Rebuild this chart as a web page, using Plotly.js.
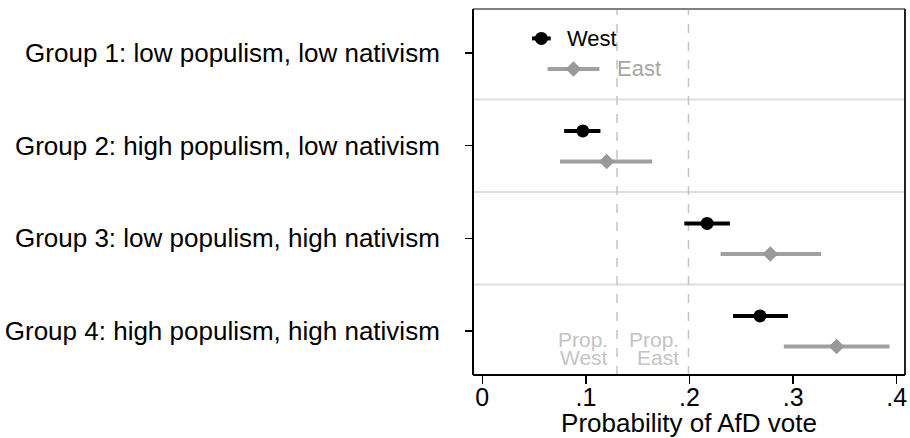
<!DOCTYPE html>
<html>
<head>
<meta charset="utf-8">
<script src="https://cdn.plot.ly/plotly-3.0.1.min.js"></script>
<style>html,body{margin:0;padding:0;background:#fff;}#chart{width:910px;height:438px;}</style>
</head>
<body>
<div id="chart"></div>
<script>
// ---- data ----
const groups = [
  "Group 1: low populism, low nativism",
  "Group 2: high populism, low nativism",
  "Group 3: low populism, high nativism",
  "Group 4: high populism, high nativism"
];
const westEst = [0.057, 0.097, 0.217, 0.268];
const westLo  = [0.048, 0.079, 0.195, 0.242];
const westHi  = [0.066, 0.114, 0.239, 0.295];
const eastEst = [0.088, 0.120, 0.278, 0.342];
const eastLo  = [0.063, 0.075, 0.230, 0.291];
const eastHi  = [0.113, 0.164, 0.327, 0.393];
const propValues = [0.13, 0.199];
const propNames = ["West", "East"];
const xTickVals = [0, 0.1, 0.2, 0.3, 0.4];
const xTickText = ["0", ".1", ".2", ".3", ".4"];

// ---- build ----
const pos = groups.map((g, i) => i + 1);
const westY = pos.map(p => p - 0.16);
const eastY = pos.map(p => p + 0.17);
const FONT = "Liberation Sans, Arial, Helvetica, sans-serif";

const west = {
  type: "scatter", mode: "markers", x: westEst, y: westY,
  marker: {symbol: "circle", size: 13, color: "#000"},
  error_x: {type: "data", symmetric: false,
    array: westHi.map((h, i) => h - westEst[i]),
    arrayminus: westLo.map((l, i) => westEst[i] - l),
    color: "#000", thickness: 4, width: 0},
  hoverinfo: "x", showlegend: false
};
const east = {
  type: "scatter", mode: "markers", x: eastEst, y: eastY,
  marker: {symbol: "diamond", size: 12, color: "#999999"},
  error_x: {type: "data", symmetric: false,
    array: eastHi.map((h, i) => h - eastEst[i]),
    arrayminus: eastLo.map((l, i) => eastEst[i] - l),
    color: "#a0a0a0", thickness: 4, width: 0},
  hoverinfo: "x", showlegend: false
};

const shapes = [];
// separators between groups
for (let i = 1; i < groups.length; i++) {
  shapes.push({type: "line", xref: "paper", yref: "y", x0: 0, x1: 1, y0: i + 0.5, y1: i + 0.5,
    line: {color: "#dedede", width: 2}, layer: "below"});
}
// reference lines
propValues.forEach(v => shapes.push({type: "line", xref: "x", yref: "paper", x0: v, x1: v, y0: 0, y1: 1,
  line: {color: "#c4c4c4", width: 1.5, dash: "dash"}, layer: "below"}));
// frame
shapes.push({type: "line", xref: "paper", yref: "paper", x0: 0, x1: 1, y0: 1, y1: 1, line: {color: "#808080", width: 2}});
shapes.push({type: "line", xref: "paper", yref: "paper", x0: 1, x1: 1, y0: 0, y1: 1, line: {color: "#222", width: 2}});
shapes.push({type: "line", xref: "paper", yref: "paper", x0: 0, x1: 0, y0: 0, y1: 1, line: {color: "#000", width: 2}});
shapes.push({type: "line", xref: "paper", yref: "paper", x0: 0, x1: 1, y0: 0, y1: 0, line: {color: "#000", width: 2}});

const annotations = [
  {x: westEst[0], y: westY[0], xref: "x", yref: "y", text: "West", showarrow: false,
   xanchor: "left", xshift: 24, font: {family: FONT, size: 22, color: "#000"}},
  {x: eastEst[0], y: eastY[0], xref: "x", yref: "y", text: "East", showarrow: false,
   xanchor: "left", xshift: 42, font: {family: FONT, size: 22, color: "#a6a6a6"}}
];
propValues.forEach((v, i) => {
  annotations.push({x: v, y: 0.097, xref: "x", yref: "paper", text: "Prop.", showarrow: false,
    xanchor: "right", yanchor: "middle", xshift: -7, font: {family: FONT, size: 21, color: "#c4c4c4"}});
  annotations.push({x: v, y: 0.047, xref: "x", yref: "paper", text: propNames[i], showarrow: false,
    xanchor: "right", yanchor: "middle", xshift: -7, font: {family: FONT, size: 21, color: "#c4c4c4"}});
});

const layout = {
  width: 910, height: 438,
  margin: {l: 473, r: 5, t: 9, b: 63, pad: 0},
  paper_bgcolor: "#fff", plot_bgcolor: "#fff",
  font: {family: FONT, color: "#000"},
  xaxis: {
    range: [-0.009, 0.408], tickvals: xTickVals, ticktext: xTickText,
    ticks: "outside", ticklen: 8, tickwidth: 1.5, tickcolor: "#000",
    showgrid: false, zeroline: false, showline: false,
    ticklabelstandoff: -8,
    tickfont: {family: FONT, size: 25, color: "#000"},
    title: {text: "Probability of AfD vote", font: {family: FONT, size: 26, color: "#000"}, standoff: 0}
  },
  yaxis: {
    range: [4.478, 0.522], tickvals: pos, ticktext: groups,
    ticks: "outside", ticklen: 7, tickwidth: 1.5, tickcolor: "#000",
    showgrid: false, zeroline: false, showline: false,
    ticklabelstandoff: 20,
    tickfont: {family: FONT, size: 26, color: "#000"}
  },
  shapes: shapes,
  annotations: annotations,
  showlegend: false
};

Plotly.newPlot("chart", [west, east], layout, {displayModeBar: false, staticPlot: true});
</script>
</body>
</html>
